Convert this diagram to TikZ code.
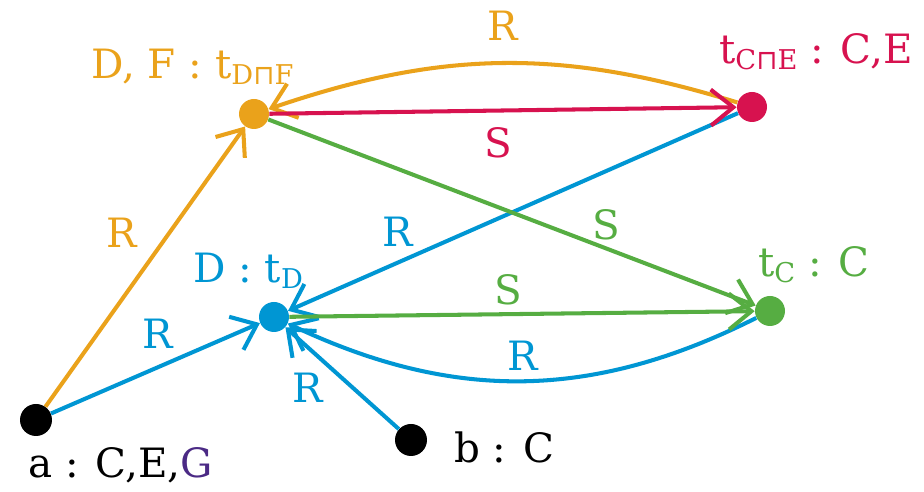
\documentclass[tikz,border=0pt]{standalone}
\usepackage{fontspec}
\usepackage{xcolor}
\setmainfont{DejaVu Serif}
\newfontfamily\symfont{DejaVu Sans}
\usetikzlibrary{arrows.meta}

\definecolor{corange}{HTML}{EAA21B}
\definecolor{ccrimson}{HTML}{D7124F}
\definecolor{cblue}{HTML}{0096D3}
\definecolor{cgreen}{HTML}{56AD42}
\definecolor{cpurple}{HTML}{4B2A85}

\newcommand{\subtxt}[1]{\raisebox{-0.14em}{\fontsize{15.5}{16}\selectfont #1}}
\newcommand{\meet}{{\symfont ⊓}}

\begin{document}
\begin{tikzpicture}[x=0.02cm, y=-0.02cm,
    every node/.style={font=\fontsize{23}{27}\selectfont},
    dot/.style={circle, inner sep=0pt, minimum size=0.6cm},
    edge/.style={line width=2.3pt, -{Straight Barb[length=0.45cm,width=0.72cm]}}]
\useasboundingbox (0,0) rectangle (924,492);

        % Define the individuals
        \node[dot, fill=corange] (DF) at (254, 114) {};      % D, F
        \node[dot, fill=ccrimson] (CE) at (752, 107) {};     % C, E
        \node[dot, fill=cblue] (D) at (274, 317) {};         % D
        \node[dot, fill=cgreen] (TC) at (770, 311) {};       % C
        \node[dot, fill=black, minimum size=0.64cm] (A) at (36, 420) {};   % a
        \node[dot, fill=black, minimum size=0.64cm] (B) at (411, 440) {};  % b

        % Labels of the individuals
        \node[anchor=base west, text=corange] (DFlabel) at (85, 79) {D, F : t\subtxt{D\meet F}};
        \node[anchor=base west, text=ccrimson] (CElabel) at (713, 64) {t\subtxt{C\meet E} : C,E};
        \node[anchor=base west, text=cblue] (Dlabel) at (187, 283) {D : t\subtxt{D}};
        \node[anchor=base west, text=cgreen] (TClabel) at (752, 277) {t\subtxt{C} : C};
        \node[anchor=base west] (Alabel) at (22, 478) {a : C,E,\textcolor{cpurple}{G}};
        \node[anchor=base west] (Blabel) at (448, 463) {b : C};

        % Draw R edges
        \draw[edge, corange] (A) -- (DF) node[text=corange, pos=0.62, shift={(-48,0)}] (r1) {R};
        \draw[edge, cblue] (A) -- (D) node[text=cblue, pos=0.51, shift={(0,-34)}] (r2) {R};
        \draw[edge, cblue] (B) -- (D) node[text=cblue, pos=0.41, shift={(-45,0)}] (r3) {R};
        \draw[edge, corange] (CE) to[bend right=18] node[text=corange, midway, shift={(0,-37)}] (r4) {R} (DF);
        \draw[edge, cblue] (CE) -- (D) node[text=cblue, pos=0.757, shift={(0,-31)}] (r5) {R};
        \draw[edge, cblue] (TC) to[bend left=26] node[text=cblue, midway, shift={(0,-25)}] (r6) {R} (D);

        % Draw S edges
        \draw[edge, ccrimson] (DF) -- (CE) node[text=ccrimson, pos=0.49, shift={(0,32)}] (s1) {S};
        \draw[edge, cgreen] (DF) -- (TC) node[text=cgreen, pos=0.694, shift={(0,-24)}] (s2) {S};
        \draw[edge, cgreen] (D) -- (TC) node[text=cgreen, pos=0.47, shift={(0,-24)}] (s3) {S};
\end{tikzpicture}
\end{document}
